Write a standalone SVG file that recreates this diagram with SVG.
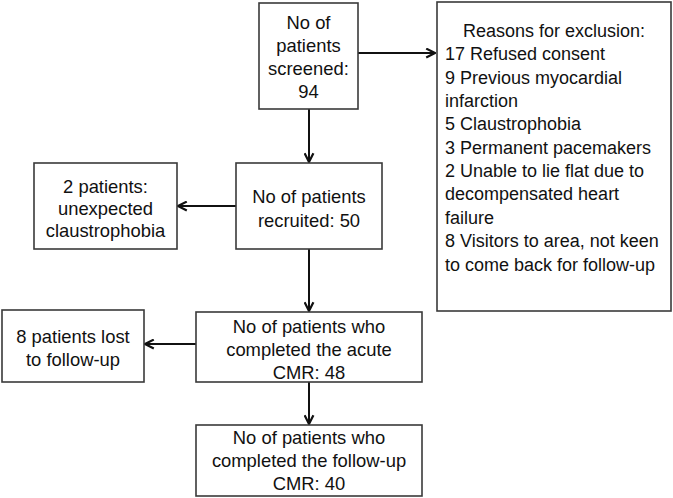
<svg xmlns="http://www.w3.org/2000/svg" width="673" height="498" viewBox="0 0 673 498">
<style>
.box{fill:#fff;stroke:#3a3a3a;stroke-width:1.6}
.t{font-family:"Liberation Sans",Arial,sans-serif;font-size:18.4px;fill:#111}
.c{text-anchor:middle}
.e{font-size:18px}
.conn{stroke:#111;stroke-width:2;fill:none;marker-end:url(#ah)}
</style>
<defs>
<marker id="ah" viewBox="0 0 10 10" refX="9" refY="5" markerWidth="5.5" markerHeight="5.5" orient="auto" markerUnits="strokeWidth">
<polyline points="1,1 9,5 1,9" fill="none" stroke="#111" stroke-width="2"/>
</marker>
</defs>
<rect width="673" height="498" fill="#fff"/>
<g id="connectors">
<line class="conn" x1="309" y1="109" x2="309" y2="162"/>
<line class="conn" x1="358" y1="53" x2="435" y2="53"/>
<line class="conn" x1="236" y1="206" x2="178" y2="206"/>
<line class="conn" x1="309" y1="249" x2="309" y2="311"/>
<line class="conn" x1="196" y1="344" x2="145" y2="344"/>
<line class="conn" x1="309" y1="382" x2="309" y2="424"/>
</g>
<g id="screened">
<rect class="box" x="259" y="3" width="99" height="106"/>
<text class="t c" x="308.5" y="29">No of</text>
<text class="t c" x="308.5" y="52">patients</text>
<text class="t c" x="308.5" y="75">screened:</text>
<text class="t c" x="308.5" y="98">94</text>
</g>
<g id="exclusion">
<rect class="box" x="437" y="2" width="234" height="309"/>
<text class="t e c" x="554" y="37">Reasons for exclusion:</text>
<text class="t e" x="445" y="60">17 Refused consent</text>
<text class="t e" x="445" y="83.5">9 Previous myocardial</text>
<text class="t e" x="445" y="107">infarction</text>
<text class="t e" x="445" y="130">5 Claustrophobia</text>
<text class="t e" x="445" y="153.5">3 Permanent pacemakers</text>
<text class="t e" x="445" y="177">2 Unable to lie flat due to</text>
<text class="t e" x="445" y="200">decompensated heart</text>
<text class="t e" x="445" y="223.5">failure</text>
<text class="t e" x="445" y="247">8 Visitors to area, not keen</text>
<text class="t e" x="445" y="270.5">to come back for follow-up</text>
</g>
<g id="recruited">
<rect class="box" x="236" y="163" width="146" height="86"/>
<text class="t c" x="309" y="203">No of patients</text>
<text class="t c" x="309" y="227">recruited: 50</text>
</g>
<g id="claustrophobia">
<rect class="box" x="34" y="163" width="143" height="86"/>
<text class="t c" x="105.5" y="193">2 patients:</text>
<text class="t c" x="105.5" y="215">unexpected</text>
<text class="t c" x="105.5" y="237">claustrophobia</text>
</g>
<g id="acute">
<rect class="box" x="196" y="312" width="226" height="70"/>
<text class="t c" x="309" y="333">No of patients who</text>
<text class="t c" x="309" y="356">completed the acute</text>
<text class="t c" x="309" y="379">CMR: 48</text>
</g>
<g id="lost">
<rect class="box" x="2" y="310" width="142" height="72"/>
<text class="t c" x="73" y="343">8 patients lost</text>
<text class="t c" x="73" y="366">to follow-up</text>
</g>
<g id="followup">
<rect class="box" x="196" y="425" width="226" height="71"/>
<text class="t c" x="309" y="444">No of patients who</text>
<text class="t c" x="309" y="467">completed the follow-up</text>
<text class="t c" x="309" y="490">CMR: 40</text>
</g>
</svg>
